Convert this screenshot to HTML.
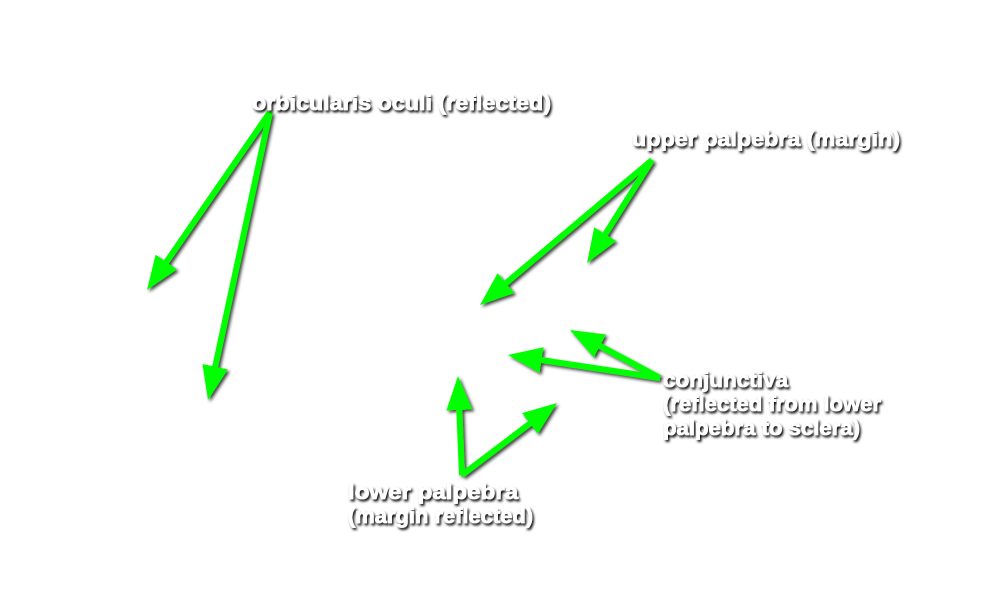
<!DOCTYPE html>
<html><head><meta charset="utf-8"><style>
html,body{margin:0;padding:0;background:#fff;}
svg{display:block;}
text{font-family:"Liberation Sans",Arial,sans-serif;font-weight:bold;font-size:21px;fill:#fff;stroke:#fff;stroke-width:0.7px;}
</style></head><body>
<svg width="1000" height="595" viewBox="0 0 1000 595" xmlns="http://www.w3.org/2000/svg">
<defs>
<filter id="sh" x="-20%" y="-20%" width="140%" height="140%">
<feDropShadow dx="2" dy="2" stdDeviation="1.5" flood-color="#000" flood-opacity="0.75"/>
</filter>
<filter id="ts" x="-10%" y="-30%" width="120%" height="160%">
<feDropShadow dx="1.5" dy="2" stdDeviation="1.3" flood-color="#000" flood-opacity="1"/>
</filter>
<marker id="ah" markerUnits="userSpaceOnUse" markerWidth="40" markerHeight="30" refX="6" refY="13" orient="auto">
<polygon points="0,0 34,13 0,26" fill="#00ff00"/>
</marker>
</defs>
<g filter="url(#sh)" stroke="#00ff00" stroke-width="6" fill="none" stroke-linecap="butt">
<line x1="270" y1="112" x2="162.9" y2="267.0" marker-end="url(#ah)"/>
<line x1="270" y1="112" x2="213.9" y2="372.6" marker-end="url(#ah)"/>
<line x1="652" y1="160" x2="501.4" y2="287.0" marker-end="url(#ah)"/>
<line x1="652" y1="160" x2="602.0" y2="239.3" marker-end="url(#ah)"/>
<line x1="660" y1="378" x2="594.7" y2="343.2" marker-end="url(#ah)"/>
<line x1="660" y1="378" x2="535.7" y2="359.2" marker-end="url(#ah)"/>
<line x1="462" y1="475" x2="459.1" y2="404.0" marker-end="url(#ah)"/>
<line x1="462" y1="475" x2="534.7" y2="419.9" marker-end="url(#ah)"/>
</g>
<g filter="url(#ts)">
<text x="252" y="110" textLength="299" lengthAdjust="spacingAndGlyphs">orbicularis oculi (reflected)</text>
<text x="632" y="146" textLength="268" lengthAdjust="spacingAndGlyphs">upper palpebra (margin)</text>
<text x="663" y="387" textLength="125" lengthAdjust="spacingAndGlyphs">conjunctiva</text>
<text x="663" y="411" textLength="218" lengthAdjust="spacingAndGlyphs">(reflected from lower</text>
<text x="663" y="435" textLength="197" lengthAdjust="spacingAndGlyphs">palpebra to sclera)</text>
<text x="348" y="499" textLength="170" lengthAdjust="spacingAndGlyphs">lower palpebra</text>
<text x="348" y="523" textLength="185" lengthAdjust="spacingAndGlyphs">(margin reflected)</text>
</g>
</svg>
</body></html>
